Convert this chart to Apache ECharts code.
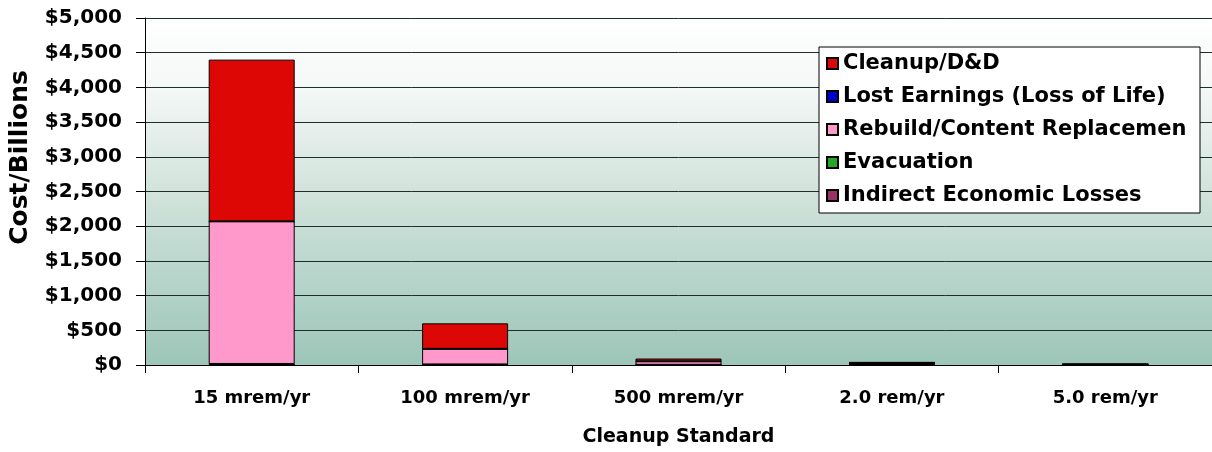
<!DOCTYPE html>
<html>
<head>
<meta charset="utf-8">
<script src="https://cdn.jsdelivr.net/npm/echarts@6/dist/echarts.min.js"></script>
<style>html,body{margin:0;padding:0;background:#fff;}#c{width:1212px;height:452px;}</style>
</head>
<body>
<div id="c"></div>
<script>
const categories = ['15 mrem/yr', '100 mrem/yr', '500 mrem/yr', '2.0 rem/yr', '5.0 rem/yr'];
const indirectLosses = [10, 5, 2, 12, 5];
const evacuation = [5, 3, 1, 6, 2];
const rebuild = [2055, 225, 50, 12, 4];
const lostEarnings = [0, 0, 0, 2, 0];
const cleanup = [2330, 367, 40, 10, 4];
const yTickLabels = ['$0', '$500', '$1,000', '$1,500', '$2,000', '$2,500', '$3,000', '$3,500', '$4,000', '$4,500', '$5,000'];

const FONT = '"DejaVu Sans", sans-serif';
const chart = echarts.init(document.getElementById('c'), null, {renderer: 'canvas'});

function mk(name, data, color) {
  return {
    name: name, type: 'bar', stack: 'cost', data: data, barWidth: 86,
    itemStyle: {color: color, borderColor: '#000', borderWidth: 1},
    emphasis: {disabled: true}
  };
}

chart.setOption({
  animation: false,
  backgroundColor: '#ffffff',
  grid: {
    left: 143, right: -3, top: 18, bottom: 87, show: true, borderWidth: 0,
    backgroundColor: {
      type: 'linear', x: 0, y: 0, x2: 0, y2: 1,
      colorStops: [
        {offset: 0, color: '#ffffff'},
        {offset: 0.2, color: '#f4f8f6'},
        {offset: 0.5, color: '#d2e3dc'},
        {offset: 1, color: '#9cc6b8'}
      ]
    }
  },
  legend: {
    orient: 'vertical', left: 819, top: 47,
    padding: [6, 5, 7, 7],
    icon: 'rect',
    itemWidth: 11, itemHeight: 11, itemGap: 12,
    backgroundColor: '#ffffff', borderColor: '#000', borderWidth: 1,
    data: ['Cleanup/D&D', 'Lost Earnings (Loss of Life)', 'Rebuild/Content Replacement', 'Evacuation', 'Indirect Economic Losses'],
    textStyle: {fontFamily: FONT, fontWeight: 'bold', fontSize: 21, color: '#000', lineHeight: 21, width: 352, overflow: 'truncate', ellipsis: ''}
  },
  xAxis: {
    type: 'category', data: categories,
    name: 'Cleanup Standard', nameLocation: 'middle', nameGap: 63,
    nameTextStyle: {fontFamily: FONT, fontWeight: 'bold', fontSize: 19, color: '#000'},
    axisLine: {lineStyle: {color: '#000', width: 1}},
    axisTick: {show: true, length: 8, lineStyle: {color: '#000'}},
    axisLabel: {fontFamily: FONT, fontWeight: 'bold', fontSize: 18, color: '#000', margin: 24}
  },
  yAxis: {
    type: 'value', min: 0, max: 5000, interval: 500,
    name: 'Cost/Billions', nameLocation: 'middle', nameGap: 112,
    nameTextStyle: {fontFamily: FONT, fontWeight: 'bold', fontSize: 25, color: '#000', padding: [0, 0, 0, 68]},
    axisLine: {show: true, lineStyle: {color: '#000', width: 1}},
    axisTick: {show: true, length: 9, lineStyle: {color: '#000'}},
    axisLabel: {
      fontFamily: FONT, fontWeight: 'bold', fontSize: 20, color: '#000', margin: 23,
      formatter: function (v) { return yTickLabels[Math.round(v / 500)]; }
    },
    splitLine: {show: true, lineStyle: {color: '#1e2e28', width: 1}}
  },
  series: [
    mk('Indirect Economic Losses', indirectLosses, '#993366'),
    mk('Evacuation', evacuation, '#22aa22'),
    mk('Rebuild/Content Replacement', rebuild, '#ff99cc'),
    mk('Lost Earnings (Loss of Life)', lostEarnings, '#0000cc'),
    mk('Cleanup/D&D', cleanup, '#dd0806')
  ]
});
</script>
</body>
</html>
